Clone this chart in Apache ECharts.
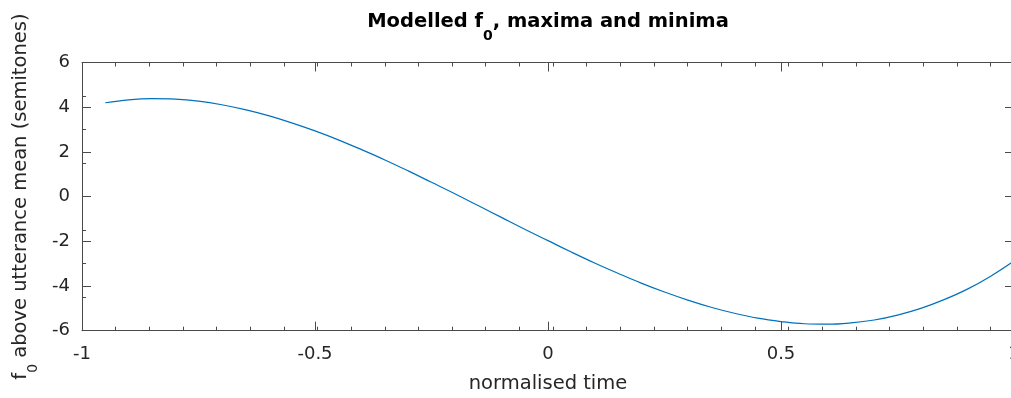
<!DOCTYPE html>
<html>
<head>
<meta charset="utf-8">
<script src="https://cdn.jsdelivr.net/npm/echarts@6/dist/echarts.min.js"></script>
<style>
html,body{margin:0;padding:0;background:#fff;}
#c{width:1011px;height:398px;}
</style>
</head>
<body>
<div id="c"></div>
<script>
// normalised time
const times = [-0.95,-0.90,-0.85,-0.80,-0.75,-0.70,-0.65,-0.60,-0.55,-0.50,-0.45,-0.40,-0.35,-0.30,-0.25,-0.20,-0.15,-0.10,-0.05,0.00,0.05,0.10,0.15,0.20,0.25,0.30,0.35,0.40,0.45,0.50,0.55,0.60,0.65,0.70,0.75,0.80,0.85,0.90,0.95,1.00];
// f0 above utterance mean (semitones)
const f0 = [4.20,4.33,4.38,4.36,4.27,4.11,3.89,3.62,3.30,2.94,2.54,2.10,1.64,1.15,0.64,0.13,-0.40,-0.93,-1.46,-1.97,-2.48,-2.97,-3.43,-3.87,-4.27,-4.63,-4.95,-5.22,-5.44,-5.59,-5.69,-5.71,-5.65,-5.52,-5.30,-5.00,-4.61,-4.14,-3.56,-2.88];
const xMajorTicks = [-1,-0.5,0,0.5,1];
const yMajorTicks = [-6,-4,-2,0,2,4,6];
const xMinorStep = 0.0722;
const yMinorStep = 1.5;

const FONT = 'DejaVu Sans';
const TXT = '#262626';
const AX = '#4a4a4a';
const chart = echarts.init(document.getElementById('c'), null, {renderer:'canvas'});

const gridPos = {left:82, top:62.5, width:932, height:268.2, containLabel:false, outerBoundsMode:'none'};
const baseLine = {show:true, onZero:false, lineStyle:{color:AX, width:1}};

function majorX(pos, showLabel){
  return {
    type:'value', gridIndex:0, position:pos, min:-1, max:1, interval:0.5,
    axisLine: baseLine,
    axisTick:{show:true, inside:true, length:9, lineStyle:{color:AX}},
    splitLine:{show:false},
    axisLabel:{show:showLabel, color:TXT, fontFamily:FONT, fontSize:18, margin:15, showMaxLabel:true, showMinLabel:true},
    name: showLabel ? 'normalised time' : '',
    nameLocation:'middle', nameGap:43,
    nameTextStyle:{color:TXT, fontFamily:FONT, fontSize:19.5}
  };
}
function minorX(pos){
  return {
    type:'value', gridIndex:1, position:pos, min:-1, max:1, interval:xMinorStep,
    axisLine:{show:false, onZero:false},
    axisTick:{show:true, inside:true, length:4, lineStyle:{color:AX}},
    splitLine:{show:false}, axisLabel:{show:false}
  };
}
function majorY(pos, showLabel){
  return {
    type:'value', gridIndex:0, position:pos, min:-6, max:6, interval:2,
    axisLine: baseLine,
    axisTick:{show:true, inside:true, length:9, lineStyle:{color:AX}},
    splitLine:{show:false},
    axisLabel:{show:showLabel, color:TXT, fontFamily:FONT, fontSize:18, margin:12},
    name: showLabel ? '{a|f}{s|0}{a| above utterance mean (semitones)}' : '',
    nameLocation:'middle', nameRotate:90, nameGap:49,
    nameTextStyle:{
      color:TXT, fontFamily:FONT,
      rich:{
        a:{fontSize:19.5, fontFamily:FONT, color:TXT, lineHeight:22, verticalAlign:'top'},
        s:{fontSize:14, fontFamily:FONT, color:TXT, lineHeight:16, padding:[15,0,0,0], verticalAlign:'top'}
      }
    }
  };
}
function minorY(pos){
  return {
    type:'value', gridIndex:1, position:pos, min:-6, max:6, interval:yMinorStep,
    axisLine:{show:false, onZero:false},
    axisTick:{show:true, inside:true, length:4, lineStyle:{color:AX}},
    splitLine:{show:false}, axisLabel:{show:false}
  };
}

const option = {
  animation:false,
  backgroundColor:'#fff',
  title:{
    text:'{a|Modelled f}{s|0}{a|, maxima and minima}',
    left:548, top:12, textAlign:'center', padding:0,
    textStyle:{
      rich:{
        a:{fontSize:19.5, fontWeight:'bold', fontFamily:FONT, color:'#000', lineHeight:22, verticalAlign:'top'},
        s:{fontSize:14, fontWeight:'bold', fontFamily:FONT, color:'#000', lineHeight:16, padding:[17,0,0,0], verticalAlign:'top'}
      }
    }
  },
  grid:[Object.assign({}, gridPos), Object.assign({}, gridPos)],
  xAxis:[majorX('bottom', true), majorX('top', false), minorX('bottom'), minorX('top')],
  yAxis:[majorY('left', true), majorY('right', false), minorY('left')],
  series:[{
    type:'line', xAxisIndex:0, yAxisIndex:0,
    data: times.map((t,i)=>[t, f0[i]]),
    showSymbol:false, smooth:0.4,
    lineStyle:{color:'#0072BD', width:1.2},
    clip:true
  }]
};
chart.setOption(option);
</script>
</body>
</html>
